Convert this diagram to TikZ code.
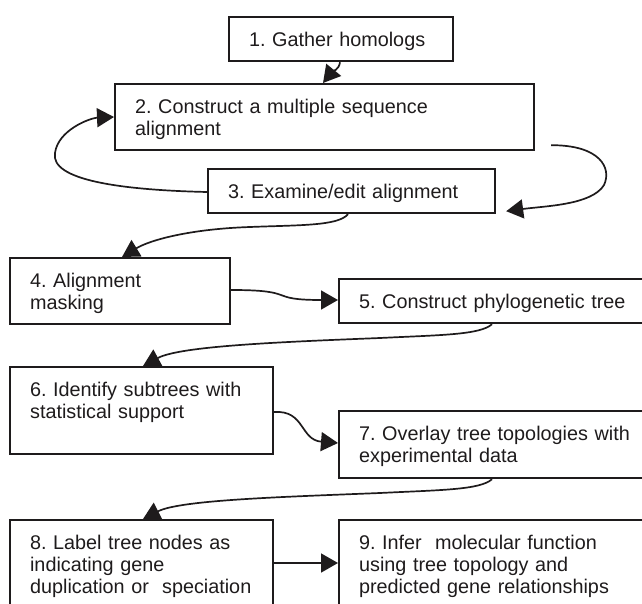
\documentclass[tikz,border=0pt]{standalone}
\usepackage{fontspec}
\setmainfont{Liberation Sans}
\usetikzlibrary{arrows.meta}
\definecolor{ink}{RGB}{30,27,28}
\frenchspacing
\begin{document}
\begin{tikzpicture}[
  box/.style={draw=ink, line width=2.2pt, anchor=north west, align=left,
    inner xsep=20pt, inner ysep=0pt, text height=29.5pt, text=ink,
    font=\fontsize{19.8}{22}\selectfont},
  arr/.style={draw=ink, line width=1.7pt, -{Triangle[length=17pt,width=19pt]}}]
\useasboundingbox (0,0) rectangle (642pt,-604pt);
\clip (0,0) rectangle (642pt,-604pt);
\begin{scope}[x=1pt,y=1pt]
\node[box, text width=184pt, text depth=14.5pt] (b1) at (228,-16) {1. Gather homologs};
\node[box, text width=379pt, text depth=36.5pt] (b2) at (114,-83) {2. Construct a multiple sequence\\alignment};
\node[box, text width=247pt, text depth=14.5pt] (b3) at (207,-168) {3. Examine/edit alignment};
\node[box, text width=180pt, text depth=36.5pt] (b4) at (9,-257) {4. Alignment\\masking};
\node[box, text width=290pt, text depth=14.5pt] (b5) at (338,-278) {5. Construct phylogenetic tree};
\node[box, text width=223pt, text depth=57.5pt] (b6) at (9,-366) {6. Identify subtrees with\\statistical support};
\node[box, text width=290pt, text depth=37.5pt] (b7) at (338,-410) {7. Overlay tree topologies with\\experimental data};
\node[box, text width=223pt, text depth=80pt] (b8) at (9,-519) {8. Label tree nodes as\\indicating gene\\duplication or\ \ speciation};
\node[box, text width=290pt, text depth=80pt] (b9) at (338,-519) {9. Infer\ \ molecular function\\using tree topology and\\predicted gene relationships};

% 1 -> 2
\draw[arr] ([xshift=112pt]b1.south west) .. controls (339,-70) and (332,-72) .. ([xshift=209pt]b2.north west);
% 2 -> 3 (right loop)
\coordinate (r0) at ([xshift=16pt,yshift=6pt]b2.south east);
\draw[arr] (r0) .. controls (600,-145) and (612,-168) .. (604,-185)
  .. controls (592,-205) and (545,-206) .. ([xshift=10pt,yshift=3pt]b3.south east);
% 3 -> 2 (left loop)
\draw[arr] ([yshift=-24pt]b3.north west) .. controls (120,-190) and (50,-180) .. (55,-153)
  .. controls (58,-130) and (90,-118) .. ([yshift=-34pt]b2.north west);
% 3 -> 4
\draw[arr] ([xshift=141pt]b3.south west) .. controls (338,-226) and (300,-225) .. (250,-227)
  .. controls (190,-229) and (150,-240) .. ([xshift=113pt]b4.north west);
% 4 -> 5
\draw[arr] ([yshift=-33pt]b4.north east) .. controls (300,-290) and (265,-300) .. ([yshift=-22pt]b5.north west);
% 5 -> 6
\draw[arr] ([xshift=154pt]b5.south west) .. controls (480,-335) and (440,-335) .. (380,-338)
  .. controls (280,-342) and (180,-346) .. ([xshift=134pt]b6.north west);
% 6 -> 7
\draw[arr] ([yshift=-46pt]b6.north east) .. controls (305,-410) and (300,-440) .. ([yshift=-33pt]b7.north west);
% 7 -> 8
\draw[arr] ([xshift=154pt]b7.south west) .. controls (480,-490) and (440,-490) .. (380,-493)
  .. controls (280,-497) and (180,-500) .. ([xshift=134pt]b8.north west);
% 8 -> 9
\draw[arr] ([yshift=-44pt]b8.north east) -- ([yshift=-44pt]b9.north west);
\end{scope}
\end{tikzpicture}
\end{document}
